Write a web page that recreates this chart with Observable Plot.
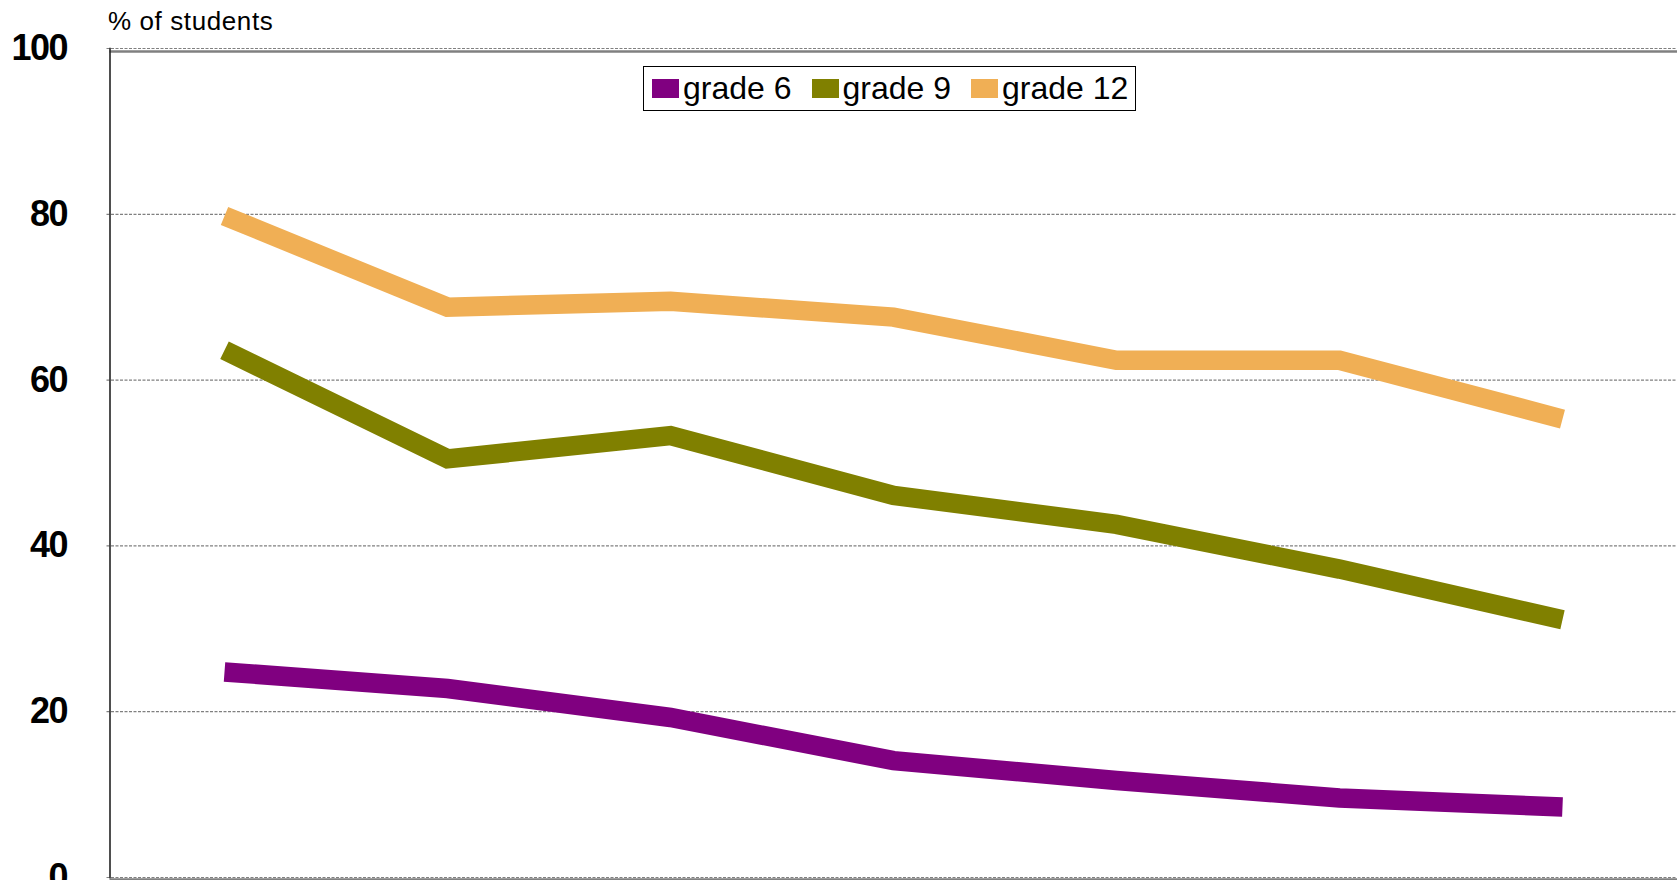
<!DOCTYPE html>
<html>
<head>
<meta charset="utf-8">
<script src="https://cdn.jsdelivr.net/npm/d3@7"></script>
<script src="https://cdn.jsdelivr.net/npm/@observablehq/plot@0.6"></script>
<style>
  html, body { margin: 0; padding: 0; background: #fff; }
  #wrap { position: relative; width: 1677px; height: 880px; overflow: hidden; font-family: "Liberation Sans", Arial, sans-serif; }
  #legend { position: absolute; left: 643px; top: 66px; width: 491px; height: 43px; border: 1px solid #000; background: #fff;
            display: flex; align-items: center; font-size: 32px; color: #000; box-sizing: content-box; }
  #legend .item { display: flex; align-items: center; }
  #legend .sw { width: 27px; height: 19px; margin-right: 4px; }
  g[aria-label="y-axis tick label"] text { letter-spacing: -1.5px; }
  g[aria-label="text"] text { letter-spacing: 0.6px; }
</style>
</head>
<body>
<div id="wrap"></div>
<script>
// survey waves (x-axis labels are not visible in the reference)
const waves = ["1", "2", "3", "4", "5", "6", "7"];
const seriesNames = ["grade 6", "grade 9", "grade 12"];
const grade6  = [24.8, 22.8, 19.3, 14.1, 11.7, 9.6, 8.5];
const grade9  = [63.6, 50.5, 53.3, 46.1, 42.6, 37.2, 31.1];
const grade12 = [79.8, 68.8, 69.5, 67.6, 62.4, 62.4, 55.3];
const yTicks = [0, 20, 40, 60, 80, 100];
const colors = ["#800080", "#808000", "#F0AF55"];

const valuesBySeries = [grade6, grade9, grade12];
const data = [];
seriesNames.forEach((s, si) => valuesBySeries[si].forEach((v, i) => data.push({wave: waves[i], series: s, value: v})));

const chart = Plot.plot({
  width: 1677,
  height: 880,
  marginLeft: 109.5,
  marginRight: 0,
  marginTop: 48,
  marginBottom: 3,
  style: {fontFamily: '"Liberation Sans", Arial, sans-serif', background: "#fff", overflow: "visible"},
  x: {type: "point", domain: waves, padding: 0.5, axis: null},
  y: {domain: [0, 100], ticks: yTicks, label: null},
  color: {domain: seriesNames, range: colors},
  marks: [
    Plot.gridY(yTicks, {stroke: "#808080", strokeOpacity: 1, strokeWidth: 1.2, strokeDasharray: "3,1.5", insetLeft: -3}),
    Plot.ruleY([100], {stroke: "#808080", strokeWidth: 2.5, dy: 3}),
    Plot.ruleY([0], {stroke: "#808080", strokeWidth: 2.5, dy: 2}),
    Plot.frame({anchor: "left", stroke: "#222", strokeWidth: 1.6}),
    Plot.axisY(yTicks, {tickSize: 0, tickPadding: 43, fontSize: 36, fontWeight: "bold", fill: "#000", label: null}),
    Plot.text(["% of students"], {frameAnchor: "top-left", textAnchor: "start", lineAnchor: "bottom", dy: -19, dx: -2, fontSize: 26, fill: "#000"}),
    Plot.line(data, {x: "wave", y: "value", z: "series", stroke: "series", strokeWidth: 19.5, strokeLinejoin: "miter", strokeLinecap: "butt", strokeMiterlimit: 10})
  ]
});
const wrap = document.getElementById("wrap");
wrap.appendChild(chart);

const legend = document.createElement("div");
legend.id = "legend";
seriesNames.forEach((s, i) => {
  const item = document.createElement("div");
  item.className = "item";
  item.style.marginLeft = i === 0 ? "8px" : "20px";
  const sw = document.createElement("div");
  sw.className = "sw";
  sw.style.background = colors[i];
  const t = document.createElement("span");
  t.textContent = s;
  item.appendChild(sw);
  item.appendChild(t);
  legend.appendChild(item);
});
wrap.appendChild(legend);
</script>
</body>
</html>
